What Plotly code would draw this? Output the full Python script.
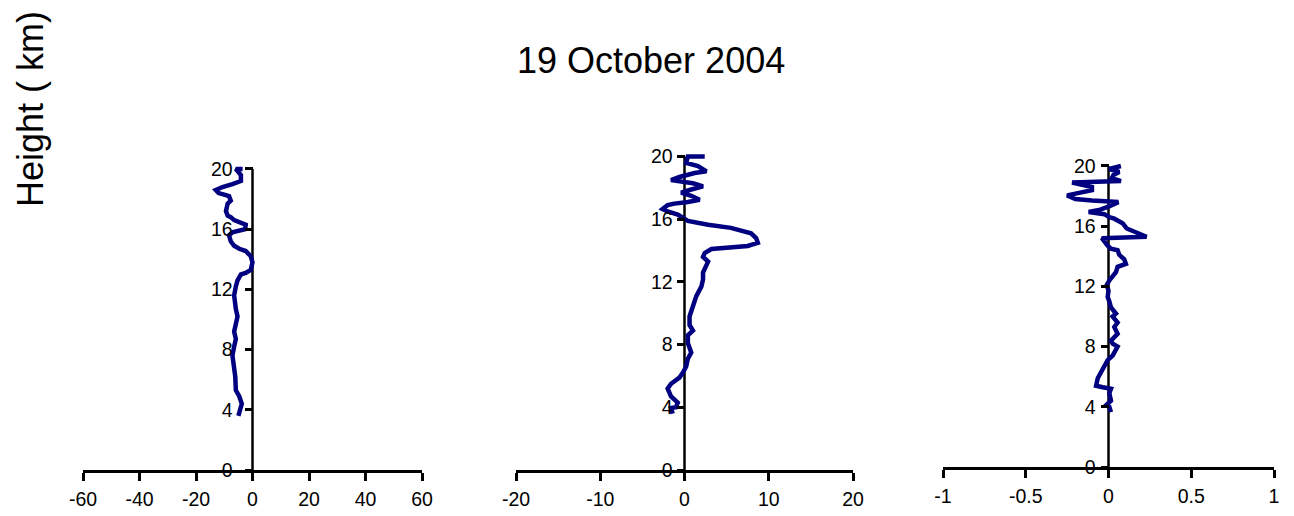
import plotly.graph_objects as go

# Vertical profiles (height in km vs. value), 19 October 2004
h1 = [3.6, 4.1, 4.4, 4.9, 5.3, 6.2, 6.9, 7.6, 8.2, 8.7, 9.2, 9.8, 10.2, 10.7, 11.6, 12.2,
      12.6, 13.0, 13.1, 13.3, 13.8, 14.2, 14.55, 14.7, 14.9, 15.2, 15.6, 15.8, 15.9, 16.0,
      16.3, 16.4, 16.6, 16.8, 16.9, 17.2, 17.7, 17.9, 18.2, 18.3, 18.4, 18.6, 18.8, 19.0,
      19.2, 19.6, 19.9, 20.0, 20.0]
v1 = [-5.0, -4.4, -3.8, -4.7, -5.9, -6.1, -6.8, -7.1, -6.5, -5.9, -6.5, -5.9, -5.3, -5.9, -6.5, -5.9,
      -5.3, -4.1, -2.4, -0.6, 0.0, -0.6, -2.4, -4.7, -6.5, -7.7, -8.3, -7.1, -4.7, -2.6,
      -2.4, -4.1, -6.5, -7.7, -8.8, -9.4, -8.8, -7.7, -8.3, -10.0, -12.0, -13.0, -10.6, -7.1,
      -4.1, -4.1, -5.3, -5.9, -3.5]

h2 = [3.6, 3.95, 4.0, 4.3, 4.7, 5.2, 5.5, 5.9, 6.2, 6.6, 7.1, 7.5, 8.1, 8.6, 8.9, 9.25,
      9.8, 10.4, 11.1, 11.7, 12.15, 12.6, 13.0, 13.3, 13.6, 13.85, 14.1, 14.2, 14.3, 14.5,
      14.8, 15.1, 15.45, 15.65, 15.9, 16.1, 16.3, 16.5, 16.65, 16.9, 17.0, 17.1, 17.25, 17.5,
      17.7, 17.9, 18.1, 18.3, 18.4, 18.5, 18.7, 18.95, 19.06, 19.4, 19.6, 20.0, 20.0]
v2 = [-1.4, -1.6, -1.0, -0.8, -1.6, -2.0, -1.6, -0.6, -0.2, 0.2, 0.4, 0.8, 0.4, 0.4, 1.0, 0.6,
      0.6, 1.0, 1.4, 2.0, 2.2, 2.2, 2.6, 2.8, 2.2, 2.4, 3.2, 5.1, 7.5, 8.7,
      8.5, 7.9, 5.5, 2.8, 0.4, -0.2, -0.8, -2.0, -2.6, -2.0, -1.2, 0.4, 1.8, 0.8,
      -0.4, 0.8, 2.2, 1.0, -0.8, -1.6, -0.6, 1.2, 2.6, 1.6, 0.2, 0.4, 2.4]

h3 = [3.65, 4.0, 4.1, 4.4, 4.9, 5.2, 5.3, 5.4, 5.9, 6.1, 6.4, 6.75, 7.1, 7.4, 7.75, 8.0,
      8.2, 8.4, 8.85, 9.3, 9.6, 10.0, 10.2, 10.6, 11.0, 11.3, 11.7, 12.1, 12.4, 12.7,
      12.95, 13.3, 13.5, 13.8, 14.1, 14.4, 14.5, 14.7, 14.95, 15.2, 15.3, 15.55, 15.75, 15.85,
      16.2, 16.4, 16.5, 16.6, 16.8, 16.95, 17.1, 17.3, 17.5, 17.6, 17.7, 17.8, 18.05, 18.25,
      18.4, 18.6, 18.8, 18.9, 19.0, 19.2, 19.4, 19.6, 19.8, 20.0]
v3 = [0.015, 0.005, -0.015, 0.015, 0.005, 0.015, -0.035, -0.075, -0.065, -0.055, -0.035, -0.025, -0.005, 0.025, 0.045, 0.055,
      0.025, 0.015, 0.055, 0.035, 0.055, 0.025, 0.045, 0.015, 0.005, -0.005, 0.0, -0.01, 0.005, 0.025,
      0.045, 0.055, 0.105, 0.095, 0.065, 0.055, 0.015, -0.005, -0.025, -0.04, 0.23, 0.175, 0.135, 0.11,
      0.085, 0.055, 0.035, 0.005, -0.025, -0.12, -0.05, 0.0, 0.04, 0.06, -0.1, -0.2, -0.25, -0.17,
      -0.1, -0.1, -0.2, -0.22, 0.075, 0.02, 0.03, 0.065, 0.005, 0.075]

x_ranges = [[-60, 60], [-20, 20], [-1, 1]]
x_ticks = [[-60, -40, -20, 0, 20, 40, 60], [-20, -10, 0, 10, 20], [-1, -0.5, 0, 0.5, 1]]
y_ticks = [0, 4, 8, 12, 16, 20]

title_text = "19 October 2004"
y_title = "Height ( km)"

W, H = 1294, 516
FONT = "Arial, Liberation Sans, sans-serif"
LINE_COLOR = "#000080"
YTOP = 20.5

# panel frames in pixels: left, right, zero-line y, pixels per km, y-label standoff
frames = [(83, 422, 470, 15.05, 8), (516, 853, 470, 15.67, 0), (943, 1274, 467, 15.05, 1)]

fig = go.Figure()
series = [(v1, h1), (v2, h2), (v3, h3)]
layout = {}
shapes = []
for i, ((xs, ys), (l, r, y0, ppk, stand)) in enumerate(zip(series, frames)):
    n = "" if i == 0 else str(i + 1)
    fig.add_trace(go.Scatter(x=xs, y=ys, mode="lines",
                             line=dict(color=LINE_COLOR, width=4.5),
                             xaxis="x" + n, yaxis="y" + n, showlegend=False,
                             hoverinfo="skip"))
    xdom = [l / W, r / W]
    ydom = [1 - y0 / H, 1 - (y0 - YTOP * ppk) / H]
    layout["xaxis" + n] = dict(
        domain=xdom, range=x_ranges[i], anchor="y" + n, automargin=False,
        tickvals=x_ticks[i], ticktext=[("%g" % t) for t in x_ticks[i]],
        showline=True, linecolor="black", linewidth=2.5,
        ticks="outside", ticklen=8, tickwidth=2.5, tickcolor="black",
        showgrid=False, zeroline=False, ticklabelstandoff=2,
        tickfont=dict(family=FONT, size=19.5, color="black"), fixedrange=True)
    layout["yaxis" + n] = dict(
        domain=ydom, range=[0, YTOP], anchor="free", automargin=False,
        position=(l + r) / 2 / W,
        tickvals=y_ticks, showline=False,
        ticks="outside", ticklen=8, tickwidth=2.5, tickcolor="black",
        showgrid=False, zeroline=False, ticklabelstandoff=stand,
        tickfont=dict(family=FONT, size=19.5, color="black"), fixedrange=True)
    shapes.append(dict(type="line", xref="x" + n, yref="y" + n,
                       x0=0, x1=0, y0=0, y1=20,
                       line=dict(color="black", width=2.5), layer="below"))

fig.update_layout(**layout)
fig.update_layout(
    width=W, height=H, margin=dict(l=0, r=0, t=0, b=0, pad=0),
    paper_bgcolor="white", plot_bgcolor="rgba(0,0,0,0)",
    shapes=shapes,
    annotations=[
        dict(text=title_text, x=651.5 / W, y=1 - 61 / H, xref="paper", yref="paper",
             showarrow=False, xanchor="center", yanchor="middle",
             font=dict(family=FONT, size=36, color="black")),
        dict(text=y_title, x=31 / W, y=1 - 109 / H, xref="paper", yref="paper",
             showarrow=False, xanchor="center", yanchor="middle", textangle=-90,
             font=dict(family=FONT, size=36, color="black")),
    ],
)

fig.write_html("out.html")
